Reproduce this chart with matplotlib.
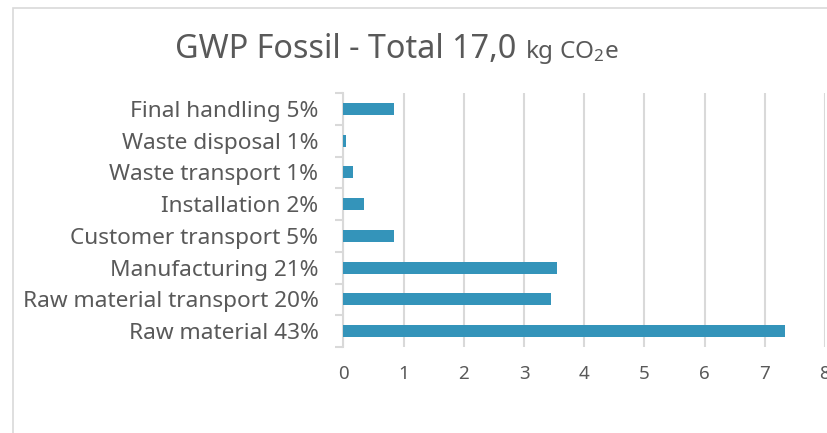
import matplotlib.pyplot as plt
from matplotlib.patches import Rectangle

plt.rcParams["font.family"] = ["Noto Sans", "DejaVu Sans"]
plt.rcParams["mathtext.default"] = "regular"

# stages, bottom to top
labels = [
    "Raw material 43%",
    "Raw material transport 20%",
    "Manufacturing 21%",
    "Customer transport 5%",
    "Installation 2%",
    "Waste transport 1%",
    "Waste disposal 1%",
    "Final handling 5%",
]
values = [7.34, 3.45, 3.55, 0.84, 0.34, 0.15, 0.04, 0.84]
xticks = [0, 1, 2, 3, 4, 5, 6, 7, 8]

grey = "#595959"
bar_color = "#3494ba"
grid_color = "#d9d9d9"

fig = plt.figure(figsize=(8.28, 4.33), dpi=100)
ax = fig.add_axes([343.5 / 828, 86 / 433, 481.5 / 828, 254 / 433])

# chart frame (right/bottom edges are cut off in the original)
fig.patches.append(Rectangle((13 / 828, -0.1), 1.2, 425 / 433 + 0.1,
                             transform=fig.transFigure, fill=False,
                             edgecolor=grid_color, linewidth=1.2))

y = range(len(labels))
ax.barh(y, values, height=0.38, color=bar_color, zorder=3)

ax.set_xlim(0, 8)
ax.set_ylim(-0.5, len(labels) - 0.5)
ax.set_xticks(xticks)
ax.set_xticklabels([str(t) for t in xticks])
ax.set_yticks(list(y))
ax.set_yticklabels(labels)
ax.set_yticks([i - 0.5 for i in range(len(labels) + 1)], minor=True)

ax.grid(axis="x", color=grid_color, linewidth=1.5, zorder=0)
for s in ["top", "right", "bottom"]:
    ax.spines[s].set_visible(False)
ax.spines["left"].set_color(grid_color)
ax.spines["left"].set_linewidth(1.5)

ax.tick_params(axis="x", length=0, pad=13, labelsize=13.5, labelcolor=grey)
ax.tick_params(axis="y", which="major", length=0, pad=18, labelsize=16.3, labelcolor=grey)
ax.tick_params(axis="y", which="minor", length=6, width=1.5, color=grid_color)

t1 = fig.text(175 / 828, 1 - 58 / 433, "GWP Fossil - Total 17,0 ", fontsize=23.3,
              color=grey, ha="left", va="baseline")
ax.annotate(r"kg CO$_2$e", xy=(1, 0), xycoords=t1, fontsize=17.5,
            color=grey, ha="left", va="bottom", annotation_clip=False)

fig.savefig("out.png", dpi=100)
